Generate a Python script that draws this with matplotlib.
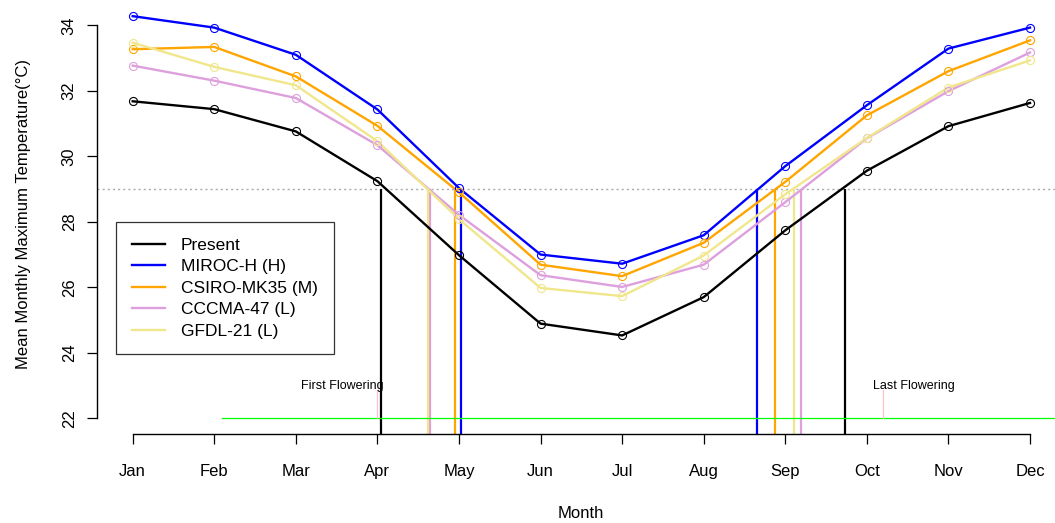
import matplotlib
matplotlib.use("Agg")
import matplotlib.pyplot as plt
from matplotlib.lines import Line2D

plt.rcParams["font.family"] = ["Liberation Sans", "DejaVu Sans"]

# data
months = ["Jan", "Feb", "Mar", "Apr", "May", "Jun",
          "Jul", "Aug", "Sep", "Oct", "Nov", "Dec"]
present = [31.68, 31.44, 30.76, 29.24, 26.98, 24.89, 24.53, 25.70, 27.74, 29.56, 30.92, 31.63]
miroc = [34.28, 33.93, 33.10, 31.43, 29.03, 27.00, 26.72, 27.59, 29.70, 31.56, 33.29, 33.93]
csiro = [33.27, 33.34, 32.44, 30.93, 28.90, 26.69, 26.34, 27.36, 29.22, 31.25, 32.60, 33.54]
cccma = [32.77, 32.31, 31.78, 30.34, 28.21, 26.37, 26.01, 26.69, 28.60, 30.55, 31.99, 33.17]
gfdl = [33.47, 32.73, 32.17, 30.46, 28.08, 25.98, 25.73, 26.97, 28.84, 30.56, 32.10, 32.93]

series_names = ["Present", "MIROC-H (H)", "CSIRO-MK35 (M)", "CCCMA-47 (L)", "GFDL-21 (L)"]
series_colors = ["black", "#0000FF", "#FFA500", "#DDA0DD", "#F0E68C"]

threshold = 29.0
# month positions where each series crosses the threshold (spring, autumn)
first_cross = [4.05, 5.02, 4.95, 4.64, 4.62]
last_cross = [9.73, 8.65, 8.87, 9.19, 9.11]

first_flowering = 4.0
last_flowering = 10.2
season_start = 2.09
season_level = 22.0

W, H = 1055, 523
fig = plt.figure(figsize=(W / 100, H / 100), dpi=100)
ax = fig.add_axes([96.8 / W, (H - 434.0) / H, 969.1 / W, 424.4 / H])
ax.set_xlim(0.56, 12.44)
ax.set_ylim(21.52, 34.48)

x = list(range(1, 13))
all_series = [present, miroc, csiro, cccma, gfdl]

ax.axhline(threshold, color="#AAAAAA", lw=1.0, linestyle=(0, (1.5, 2.2)), zorder=1)

for vals, c in zip(all_series, series_colors):
  ax.plot(x, vals, color=c, lw=1.7, zorder=3)
  ax.plot(x, vals, linestyle="none", marker="o", ms=5.8, mfc="none",
          mec=c, mew=0.8, zorder=4)

ybot = ax.get_ylim()[0]
for xs in (first_cross, last_cross):
  for xv, c in zip(xs, series_colors):
    ax.plot([xv, xv], [ybot, threshold], color=c, lw=1.6, zorder=2,
            solid_capstyle="butt")

ax.plot([season_start, ax.get_xlim()[1]], [season_level, season_level],
        color="#00FF00", lw=0.9, zorder=2)
for xv in (first_flowering, last_flowering):
  ax.plot([xv, xv], [season_level, 22.86], color="#FFC0CB", lw=0.9, zorder=2)
ax.text(4.08, 23.0, "First Flowering", fontsize=9, ha="right", va="center")
ax.text(10.07, 23.0, "Last Flowering", fontsize=9, ha="left", va="center")

# R style axes
for s in ["top", "right"]:
  ax.spines[s].set_visible(False)
ax.spines["bottom"].set_bounds(1, 12)
ax.spines["left"].set_bounds(22, 34)
for s in ["bottom", "left"]:
  ax.spines[s].set_linewidth(1.0)
ax.set_xticks(x)
ax.set_xticklabels(months)
ax.set_yticks(range(22, 35, 2))
ax.set_yticklabels([str(v) for v in range(22, 35, 2)], rotation=90, va="center")
ax.tick_params(axis="x", length=7.5, width=0.9, pad=14, labelsize=12)
ax.tick_params(axis="y", length=7.5, width=0.9, pad=7, labelsize=12)

fig.text(581 / W, 1 - 514 / H, "Month", fontsize=12, ha="center", va="center")
fig.text(24 / W, 1 - 214 / H, "Mean Monthly Maximum Temperature(°C)", fontsize=12,
         rotation=90, ha="center", va="center")

handles = [Line2D([], [], color=c, lw=1.7) for c in series_colors]
leg = ax.legend(handles, series_names, loc="upper left",
                bbox_to_anchor=(116 / W, 1 - 222.3 / H), bbox_transform=fig.transFigure,
                fontsize=12.5, frameon=True, fancybox=False, borderaxespad=0,
                borderpad=0.9, handlelength=1.9, handletextpad=0.95, labelspacing=0.36)
leg.get_frame().set_edgecolor("black")
leg.get_frame().set_linewidth(0.9)

fig.savefig("out.png", dpi=100)
